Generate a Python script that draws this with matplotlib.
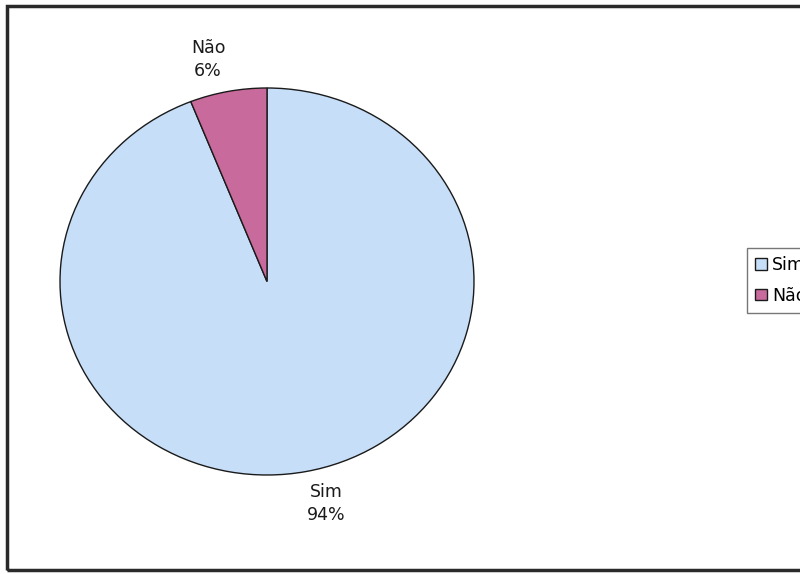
import matplotlib
matplotlib.use("Agg")
from matplotlib import pyplot as plt
from matplotlib.patches import Rectangle

categories = ["Sim", "Não"]
values = [94, 6]
colors = ["#C6DEF8", "#C86A9C"]

W, H = 800, 574
fig = plt.figure(figsize=(W / 100, H / 100), dpi=100)

# outer chart frame, right edge cut off like the scan
fig.add_artist(Rectangle((7 / W, 4 / H), 820 / W, 564 / H, transform=fig.transFigure,
                         fill=False, edgecolor="#2a2a2a", linewidth=2.5))

ax = fig.add_axes([60 / W, (H - 475) / H, 414 / W, 387 / H])
wedges, texts = ax.pie(values, colors=colors, startangle=90, counterclock=False,
                       labels=[f"{c}\n{v}%" for c, v in zip(categories, values)],
                       labeldistance=1.17,
                       wedgeprops=dict(edgecolor="#1a1a1a", linewidth=1.0),
                       textprops=dict(fontsize=12.5, color="#1a1a1a"))
for t in texts:
    x, y = t.get_position()
    t.set_position((x * 1.3, y))
    t.set_ha("center")
    t.set_va("center")
    t.set_linespacing(1.35)
ax.set_aspect("auto")
ax.set_xlim(-1, 1)
ax.set_ylim(-1, 1)

fig.legend(wedges, categories, loc="upper left", bbox_to_anchor=(738 / W, 1 - 239 / H),
           frameon=True, fancybox=False, edgecolor="#555555", fontsize=12.5,
           handlelength=0.65, handleheight=0.65, handletextpad=0.3, borderpad=0.5,
           labelspacing=0.7)

fig.savefig("out.png", dpi=100)
